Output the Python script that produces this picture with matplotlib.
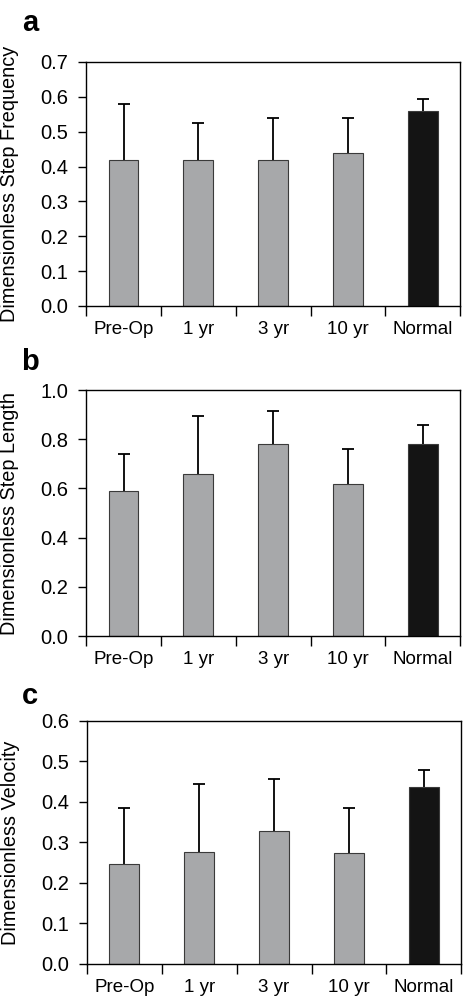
import numpy as np
import matplotlib.pyplot as plt

plt.rcParams['font.family'] = ['Liberation Sans', 'DejaVu Sans']

groups = ['Pre-Op', '1 yr', '3 yr', '10 yr', 'Normal']

freq = [0.42, 0.42, 0.42, 0.44, 0.56]
freq_err = [0.16, 0.105, 0.12, 0.10, 0.033]

length = [0.59, 0.66, 0.78, 0.62, 0.78]
length_err = [0.15, 0.233, 0.134, 0.14, 0.076]

velocity = [0.248, 0.276, 0.328, 0.274, 0.436]
velocity_err = [0.138, 0.168, 0.128, 0.112, 0.043]

panels = [
    ('a', freq, freq_err, 'Dimensionless Step Frequency', 0.7, 0.1),
    ('b', length, length_err, 'Dimensionless Step Length', 1.0, 0.2),
    ('c', velocity, velocity_err, 'Dimensionless Velocity', 0.6, 0.1),
]

# axes boxes in figure fractions [left, bottom, width, height]
boxes = [
    [0.186, 0.6934, 0.808, 0.2445],
    [0.186, 0.3627, 0.808, 0.2465],
    [0.188, 0.0341, 0.808, 0.2435],
]
letter_y = [0.977, 0.637, 0.303]

fig = plt.figure(figsize=(4.63, 9.98), dpi=100)
colors = ['#a7a8aa'] * 4 + ['#141414']
x = np.arange(len(groups))

for (letter, vals, errs, ylabel, ymax, step), box, ly in zip(panels, boxes, letter_y):
    ax = fig.add_axes(box)
    ax.bar(x, vals, width=0.4, color=colors, edgecolor='#3a3a3a', linewidth=0.8, zorder=2)
    eb = ax.errorbar(x, vals, yerr=[np.zeros(len(vals)), errs], fmt='none', ecolor='black',
                     elinewidth=1.3, capsize=4.5, capthick=1.3, zorder=1)
    eb[1][0].set_visible(False)  # no cap at the bar top
    ax.set_xlim(-0.5, 4.5)
    ax.set_ylim(0, ymax)
    ax.set_yticks(np.arange(0, ymax + step / 2, step))
    ax.yaxis.set_major_formatter(plt.FormatStrFormatter('%.1f'))
    ax.set_xticks(x)
    ax.set_xticklabels(groups)
    ax.set_xticks(np.arange(-0.5, 5, 1), minor=True)
    ax.tick_params(axis='x', which='major', length=0, pad=11, labelsize=13.5)
    ax.tick_params(axis='x', which='minor', length=7, width=1, direction='out')
    ax.tick_params(axis='y', length=6, width=1, direction='out', pad=7, labelsize=14.5)
    for s in ax.spines.values():
        s.set_linewidth(1.0)
    ax.set_ylabel(ylabel, fontsize=14.3)
    ax.yaxis.set_label_coords(-0.18, 0.5)
    fig.text(0.065, ly, letter, fontsize=21, fontweight='bold', va='center', ha='center')

fig.savefig('out.png', dpi=100)
